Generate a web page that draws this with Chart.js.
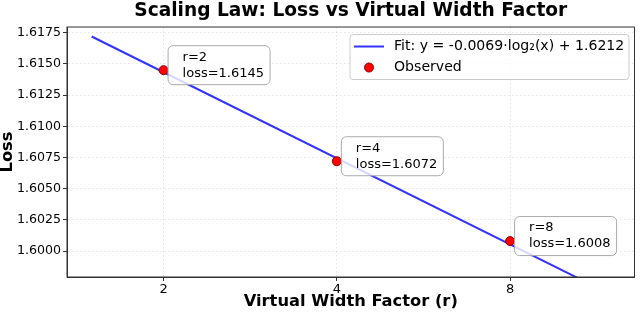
<!DOCTYPE html>
<html lang="en">
<head>
<meta charset="UTF-8">
<title>Scaling Law: Loss vs Virtual Width Factor</title>
<script src="https://cdn.jsdelivr.net/npm/chart.js"></script>
<style>
    body { margin: 0; background: #fff; }
    .wrap { width: 640px; height: 313px; }
</style>
</head>
<body>
<div class="wrap"><canvas id="lossChart"></canvas></div>
<script>
// observed runs
const widthFactors = [2, 4, 8];
const observedLoss = [1.6145, 1.6072, 1.6008];
// fitted line end points (fit: y = -0.0069*log2(x) + 1.6212)
const fitX = [1.5, 12];
const fitY = [1.6172, 1.5965];
// ticks
const xTicks = [2, 4, 8];
const yTicks = [1.6000, 1.6025, 1.6050, 1.6075, 1.6100, 1.6125, 1.6150, 1.6175];
const fitLabel = 'Fit: y = -0.0069\u00b7log\u2082(x) + 1.6212';

const FONT = "'DejaVu Sans', sans-serif";
const lineColor = 'rgba(0,0,255,0.8)';
const pointFill = '#ff0000';
const pointEdge = '#8b0000';

// frame around the plot (matplotlib spines)
const framePlugin = {
    id: 'frame',
    afterDraw(chart) {
        const {ctx, chartArea: a} = chart;
        ctx.save();
        ctx.strokeStyle = '#333';
        ctx.lineWidth = 1;
        ctx.strokeRect(a.left, a.top, a.right - a.left, a.bottom - a.top);
        ctx.restore();
    }
};

// point annotations + legend box
const notesPlugin = {
    id: 'notes',
    afterDatasetsDraw(chart) {
        const {ctx, chartArea: a} = chart;
        const xs = chart.scales.x, ys = chart.scales.y;
        ctx.save();
        ctx.font = '13px ' + FONT;
        ctx.textBaseline = 'middle';
        widthFactors.forEach((r, i) => {
            const px = xs.getPixelForValue(r);
            const py = ys.getPixelForValue(observedLoss[i]);
            ctx.beginPath();
            ctx.roundRect(px + 4.5, py - 24.5, 102, 39, 5);
            ctx.fillStyle = 'rgba(255,255,255,0.8)';
            ctx.fill();
            ctx.strokeStyle = '#aaa';
            ctx.lineWidth = 1;
            ctx.stroke();
            ctx.fillStyle = '#000';
            ctx.fillText('r=' + r, px + 19, py - 13);
            ctx.fillText('loss=' + observedLoss[i].toFixed(4), px + 19, py + 3);
        });

        // legend
        const lx = a.right - 284.5, ly = a.top + 7.5;
        ctx.beginPath();
        ctx.roundRect(lx, ly, 279, 45, 3);
        ctx.fillStyle = 'rgba(255,255,255,0.8)';
        ctx.fill();
        ctx.strokeStyle = '#ccc';
        ctx.stroke();
        ctx.beginPath();
        ctx.moveTo(lx + 4, ly + 12);
        ctx.lineTo(lx + 34, ly + 12);
        ctx.strokeStyle = lineColor;
        ctx.lineWidth = 2;
        ctx.stroke();
        ctx.beginPath();
        ctx.arc(lx + 19, ly + 33, 4.5, 0, Math.PI * 2);
        ctx.fillStyle = pointFill;
        ctx.fill();
        ctx.strokeStyle = pointEdge;
        ctx.lineWidth = 1;
        ctx.stroke();
        ctx.fillStyle = '#000';
        ctx.font = '14.1px ' + FONT;
        ctx.fillText(fitLabel, lx + 44, ly + 12);
        ctx.fillText('Observed', lx + 44, ly + 33);
        ctx.restore();
    }
};

new Chart(document.getElementById('lossChart'), {
    type: 'scatter',
    data: {
        datasets: [
            {
                label: 'Observed',
                data: widthFactors.map((r, i) => ({x: r, y: observedLoss[i]})),
                backgroundColor: pointFill,
                borderColor: pointEdge,
                borderWidth: 1,
                pointRadius: 4.5,
                order: 0
            },
            {
                label: fitLabel,
                data: fitX.map((x, i) => ({x: x, y: fitY[i]})),
                showLine: true,
                borderColor: lineColor,
                borderWidth: 2,
                pointRadius: 0,
                order: 1
            }
        ]
    },
    options: {
        responsive: true,
        maintainAspectRatio: false,
        animation: false,
        layout: { padding: { left: 0, right: 3, top: 0, bottom: 0 } },
        plugins: {
            legend: { display: false },
            tooltip: { enabled: false },
            title: {
                display: true,
                fullSize: false,
                text: 'Scaling Law: Loss vs Virtual Width Factor',
                color: '#000',
                font: { family: FONT, size: 18.6, weight: 'bold', lineHeight: 1.2 },
                padding: { top: 0, bottom: 4.7 }
            }
        },
        scales: {
            x: {
                type: 'logarithmic',
                min: 1.359,
                max: 13.16,
                afterBuildTicks: s => { s.ticks = xTicks.map(v => ({value: v})); },
                afterFit: s => { s.height = 36; },
                ticks: {
                    color: '#000',
                    font: { family: FONT, size: 13 },
                    padding: 1,
                    autoSkip: false,
                    maxRotation: 0,
                    callback: v => String(v)
                },
                grid: {
                    color: 'rgba(0,0,0,0.1)',
                    tickColor: '#333',
                    tickLength: 4,
                    tickBorderDash: []
                },
                border: { display: true, color: '#333', dash: [1.5, 2.5] },
                title: {
                    display: true,
                    text: 'Virtual Width Factor (r)',
                    color: '#000',
                    font: { family: FONT, size: 16.3, weight: 'bold', lineHeight: 1.2 },
                    padding: { top: 0, bottom: 1 }
                }
            },
            y: {
                min: 1.59792,
                max: 1.61796,
                afterBuildTicks: s => { s.ticks = yTicks.map(v => ({value: v})); },
                afterFit: s => { s.width = 67; },
                ticks: {
                    color: '#000',
                    font: { family: FONT, size: 12.6 },
                    padding: 2,
                    callback: v => v.toFixed(4)
                },
                grid: {
                    color: 'rgba(0,0,0,0.1)',
                    tickColor: '#333',
                    tickLength: 4,
                    tickBorderDash: []
                },
                border: { display: true, color: '#333', dash: [1.5, 2.5] },
                title: {
                    display: true,
                    text: 'Loss',
                    color: '#000',
                    font: { family: FONT, size: 16.3, weight: 'bold', lineHeight: 1 },
                    padding: { top: 0, bottom: 0 }
                }
            }
        }
    },
    plugins: [framePlugin, notesPlugin]
});
</script>
</body>
</html>
